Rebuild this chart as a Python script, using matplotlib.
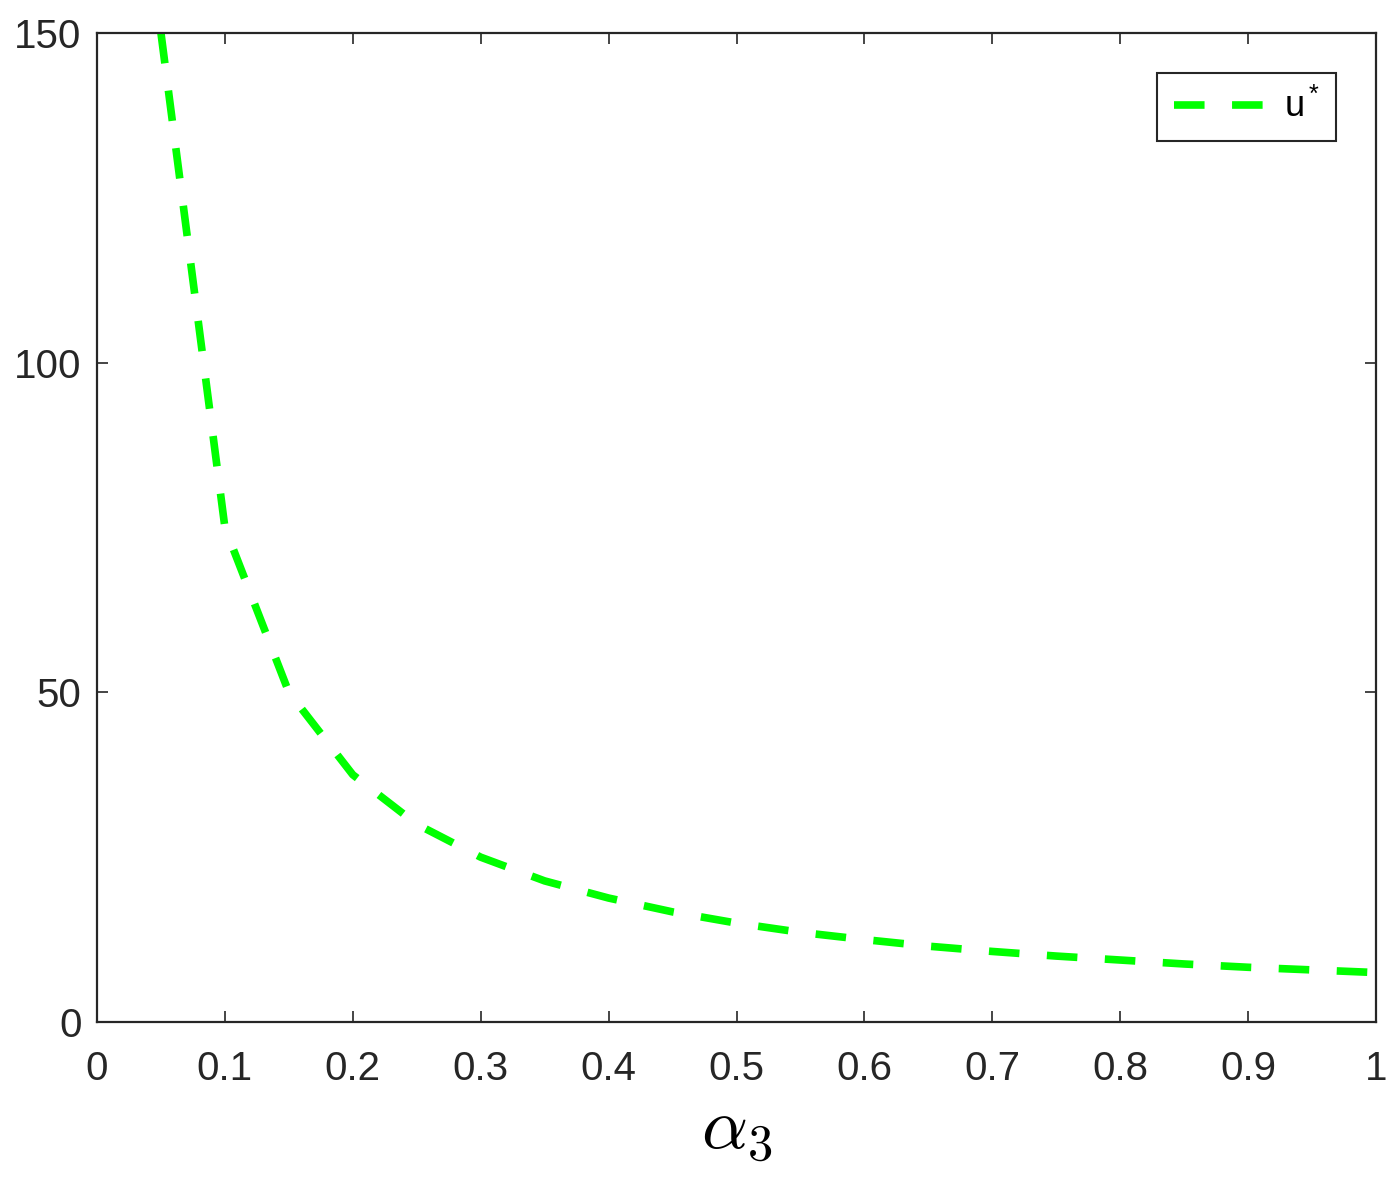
import matplotlib
matplotlib.use('Agg')
import matplotlib.pyplot as plt

plt.rcParams['font.family'] = ['Liberation Sans', 'DejaVu Sans']
plt.rcParams['mathtext.fontset'] = 'cm'

# values
alpha3 = [0.05, 0.10, 0.15, 0.20, 0.25, 0.30, 0.35, 0.40, 0.45, 0.50,
          0.55, 0.60, 0.65, 0.70, 0.75, 0.80, 0.85, 0.90, 0.95, 1.00]
u_star = [150.0, 75.0, 50.0, 37.5, 30.0, 25.0, 21.4, 18.8, 16.7, 15.0,
          13.6, 12.5, 11.5, 10.7, 10.0, 9.4, 8.8, 8.3, 7.9, 7.5]
xticks = [0, 0.1, 0.2, 0.3, 0.4, 0.5, 0.6, 0.7, 0.8, 0.9, 1]
xticklabels = ['0', '0.1', '0.2', '0.3', '0.4', '0.5', '0.6', '0.7', '0.8', '0.9', '1']
yticks = [0, 50, 100, 150]

fig = plt.figure(figsize=(13.99, 11.8), dpi=100)
ax = fig.add_axes([97 / 1399, 1 - 1022 / 1180, (1376 - 97) / 1399, (1022 - 33) / 1180])

ax.plot(alpha3, u_star, color='#00ff00', linewidth=5.5, linestyle=(0, (4.0, 3.6)),
        label=r'$\mathregular{u^*}$')

ax.set_xlim(0, 1)
ax.set_ylim(0, 150)
ax.set_xticks(xticks)
ax.set_xticklabels(xticklabels)
ax.set_yticks(yticks)
ax.tick_params(direction='in', length=8, width=1.2, top=True, right=True,
               labelsize=29, labelcolor='#262626', colors='#262626')
ax.tick_params(axis='x', pad=20)
ax.tick_params(axis='y', pad=11)
for s in ax.spines.values():
    s.set_linewidth(1.6)
    s.set_color('#262626')

ax.set_xlabel(r'$\alpha_3$', fontsize=52, labelpad=7)

leg = ax.legend(loc='upper right', fontsize=26, handlelength=2.85, handletextpad=0.2,
                fancybox=False, edgecolor='#262626', framealpha=1,
                borderaxespad=1.1, borderpad=0.45, bbox_to_anchor=(1, 1))
leg.get_frame().set_linewidth(1.5)

fig.savefig('out.png', dpi=100)
